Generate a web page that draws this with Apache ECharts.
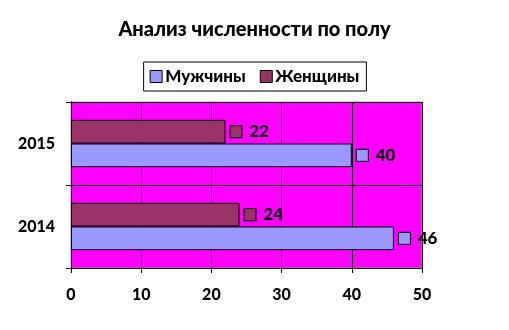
<!DOCTYPE html>
<html><head><meta charset="utf-8">
<script src="https://cdn.jsdelivr.net/npm/echarts@6/dist/echarts.min.js"></script>
<style>html,body{margin:0;padding:0;background:#fff}#c{width:509px;height:330px}</style>
</head><body><div id="c"></div>
<script>
var categories = ['2014', '2015'];
var men = [46, 40];
var women = [24, 22];
var seriesNames = ['Мужчины', 'Женщины'];
var xTicks = [0, 10, 20, 30, 40, 50];

var colors = ['#9999FF', '#993366'];
var font = 'Lato, "Open Sans", sans-serif';
function lbl(color) {
  return {
    show: true, position: 'right', distance: 5,
    fontWeight: 'bold', fontFamily: font, fontSize: 16, color: '#000',
    formatter: function (p) { return '{s| }  {v|' + p.value + '}'; },
    rich: {
      s: { width: 11, height: 11, backgroundColor: color, borderColor: '#000', borderWidth: 1 },
      v: { fontFamily: font, fontWeight: 900, fontSize: 17, color: '#000' }
    }
  };
}
var chart = echarts.init(document.getElementById('c'));
chart.setOption({
  animation: false,
  backgroundColor: '#fff',
  title: {
    text: 'Анализ численности по полу', left: 'center', top: 15,
    textStyle: { fontFamily: font, fontWeight: 900, fontSize: 20, color: '#000' }
  },
  legend: {
    data: seriesNames, top: 62, left: 'center',
    borderColor: '#000', borderWidth: 1, padding: [6, 7, 6, 6],
    itemWidth: 12, itemHeight: 12, itemGap: 14, icon: 'rect',
    itemStyle: { borderColor: '#000', borderWidth: 1 },
    textStyle: { fontFamily: font, fontWeight: 900, fontSize: 17, color: '#000', padding: [0, 0, 0, -2] }
  },
  grid: {
    left: 71, right: 87, top: 102, bottom: 62, show: true,
    backgroundColor: '#FF00FF', borderColor: '#999', borderWidth: 1
  },
  xAxis: {
    type: 'value', min: xTicks[0], max: xTicks[xTicks.length - 1], interval: 10,
    axisLine: { show: true, lineStyle: { color: '#000' } },
    axisTick: { show: true, length: 5, lineStyle: { color: '#000' } },
    splitLine: { show: true, lineStyle: { color: '#000', width: 1 } },
    axisLabel: { margin: 19, fontFamily: font, fontWeight: 900, fontSize: 16, color: '#000' }
  },
  yAxis: {
    type: 'category', data: categories,
    axisLine: { show: true, lineStyle: { color: '#000' } },
    axisTick: { show: true, length: 5, lineStyle: { color: '#000' } },
    splitLine: { show: true, lineStyle: { color: '#000', width: 1 } },
    axisLabel: { margin: 16, fontFamily: font, fontWeight: 900, fontSize: 16, color: '#000' }
  },
  series: [
    { name: seriesNames[1], type: 'bar', data: women, barGap: '0%', barCategoryGap: '43%',
      itemStyle: { color: colors[1], borderColor: '#000', borderWidth: 1 }, label: lbl(colors[1]) },
    { name: seriesNames[0], type: 'bar', data: men, barGap: '0%', barCategoryGap: '43%',
      itemStyle: { color: colors[0], borderColor: '#000', borderWidth: 1 }, label: lbl(colors[0]) }
  ]
});
</script></body></html>
